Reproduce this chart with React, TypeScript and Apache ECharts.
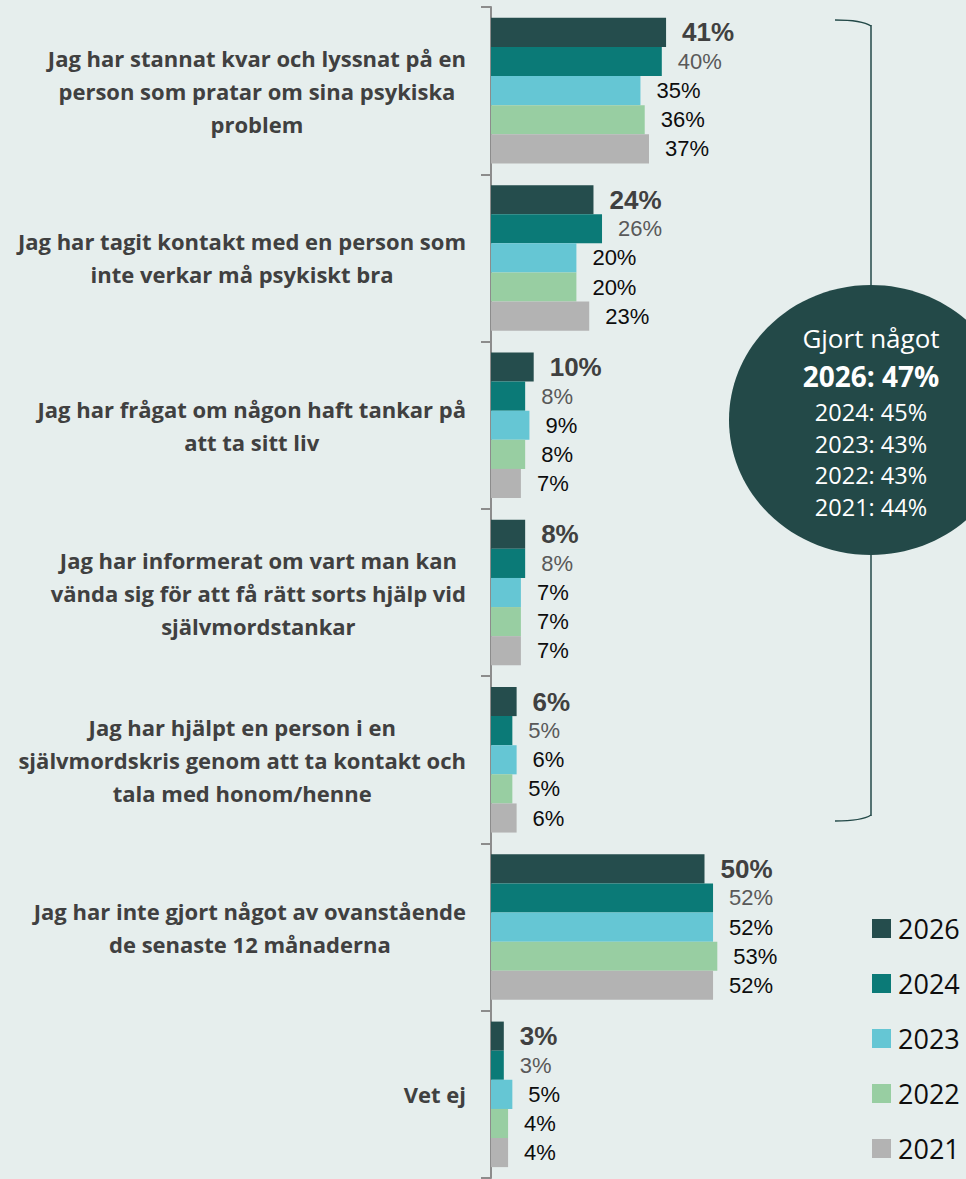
import React, { useEffect, useRef } from "react";
import * as echarts from "echarts";

const categories = [
  "Jag har stannat kvar och lyssnat på en\nperson som pratar om sina psykiska\nproblem",
  "Jag har tagit kontakt med en person som\ninte verkar må psykiskt bra",
  "Jag har frågat om någon haft tankar på\natt ta sitt liv",
  "Jag har informerat om vart man kan\nvända sig för att få rätt sorts hjälp vid\nsjälvmordstankar",
  "Jag har hjälpt en person i en\nsjälvmordskris genom att ta kontakt och\ntala med honom/henne",
  "Jag har inte gjort något av ovanstående\nde senaste 12 månaderna",
  "Vet ej",
];

const years = ["2026", "2024", "2023", "2022", "2021"];
const values2026 = [41, 24, 10, 8, 6, 50, 3];
const values2024 = [40, 26, 8, 8, 5, 52, 3];
const values2023 = [35, 20, 9, 7, 6, 52, 5];
const values2022 = [36, 20, 8, 7, 5, 53, 4];
const values2021 = [37, 23, 7, 7, 6, 52, 4];

const circleTitle = "Gjort något";
const circleMain = "2026: 47%";
const circleLines = ["2024: 45%", "2023: 43%", "2022: 43%", "2021: 44%"];

const colors = ["#254D4D", "#0B7A77", "#65C6D4", "#98CEA2", "#B3B3B3"];
const labelColors = ["#404040", "#595959", "#0D0D0D", "#0D0D0D", "#0D0D0D"];
const BG = "#E6EEED";
const DARK = "#234948";
const FONT = "'Open Sans', sans-serif";
const NUMFONT = "'Liberation Sans', Arial, sans-serif";

export default function App() {
  const ref = useRef<HTMLDivElement>(null);
  useEffect(() => {
    if (!ref.current) return;
    const chart = echarts.init(ref.current, undefined, { renderer: "svg" });
    const seriesData = [values2026, values2024, values2023, values2022, values2021];
    const series = years.map((y, i) => ({
      name: y,
      type: "bar",
      data: seriesData[i],
      barGap: "0%",
      barCategoryGap: "13%",
      itemStyle: { color: colors[i] },
      label: {
        show: true,
        position: "right",
        distance: 16,
        formatter: "{c}%",
        fontFamily: NUMFONT,
        fontSize: i === 0 ? 26 : 22,
        lineHeight: i === 0 ? 28 : 25,
        fontWeight: i === 0 ? "bold" : "normal",
        color: labelColors[i],
      },
    }));

    const cx = 871;
    const cy = 420;
    const textLines: any[] = [
      { type: "text", style: { text: circleTitle, x: cx, y: 338, align: "center", verticalAlign: "middle", fill: "#fff", font: `normal 26px ${FONT}` } },
      { type: "text", style: { text: circleMain, x: cx, y: 376, align: "center", verticalAlign: "middle", fill: "#fff", font: `bold 28px ${FONT}` } },
    ];
    circleLines.forEach((t, k) => {
      textLines.push({
        type: "text",
        style: { text: t, x: cx, y: 412 + k * 31.5, align: "center", verticalAlign: "middle", fill: "#fff", font: `normal 23.5px ${FONT}` },
      });
    });

    chart.setOption({
      animation: false,
      backgroundColor: BG,
      textStyle: { fontFamily: FONT },
      grid: { left: 491, top: 7, width: 427, height: 1171, containLabel: false },
      xAxis: { type: "value", min: 0, max: 100, show: false },
      yAxis: {
        type: "category",
        data: categories,
        inverse: true,
        axisLine: { show: true, lineStyle: { color: "#8C8C8C", width: 2 } },
        axisTick: { show: true, length: 10, lineStyle: { color: "#8C8C8C", width: 2 } },
        axisLabel: {
          margin: 25,
          formatter: (v: string) => `{c|${v}}`,
          rich: {
            c: {
              align: "center",
              fontFamily: FONT,
              fontSize: 22,
              fontWeight: "bold",
              color: "#404040",
              lineHeight: 33,
            },
          },
        },
      },
      legend: {
        orient: "vertical",
        left: 872,
        top: 913,
        padding: 0,
        itemWidth: 19,
        itemHeight: 19,
        itemGap: 24,
        icon: "rect",
        data: years,
        textStyle: { fontFamily: FONT, fontSize: 27, color: "#0D0D0D", lineHeight: 31, padding: [0, 0, 0, 2] },
      },
      graphic: [
        {
          type: "bezierCurve",
          shape: { x1: 835, y1: 20, x2: 871, y2: 26, cpx1: 862, cpy1: 20 },
          style: { stroke: DARK, lineWidth: 1.5, fill: "none" },
        },
        {
          type: "line",
          shape: { x1: 871, y1: 25, x2: 871, y2: 816 },
          style: { stroke: DARK, lineWidth: 1.5 },
        },
        {
          type: "bezierCurve",
          shape: { x1: 871, y1: 815, x2: 835, y2: 821, cpx1: 862, cpy1: 821 },
          style: { stroke: DARK, lineWidth: 1.5, fill: "none" },
        },
        {
          type: "ellipse",
          shape: { cx, cy, rx: 142, ry: 135 },
          style: { fill: DARK },
        },
        ...textLines,
      ],
      series,
    });
    return () => chart.dispose();
  }, []);
  return <div ref={ref} style={{ position: "fixed", left: 0, top: 0, width: 966, height: 1179 }} />;
}
